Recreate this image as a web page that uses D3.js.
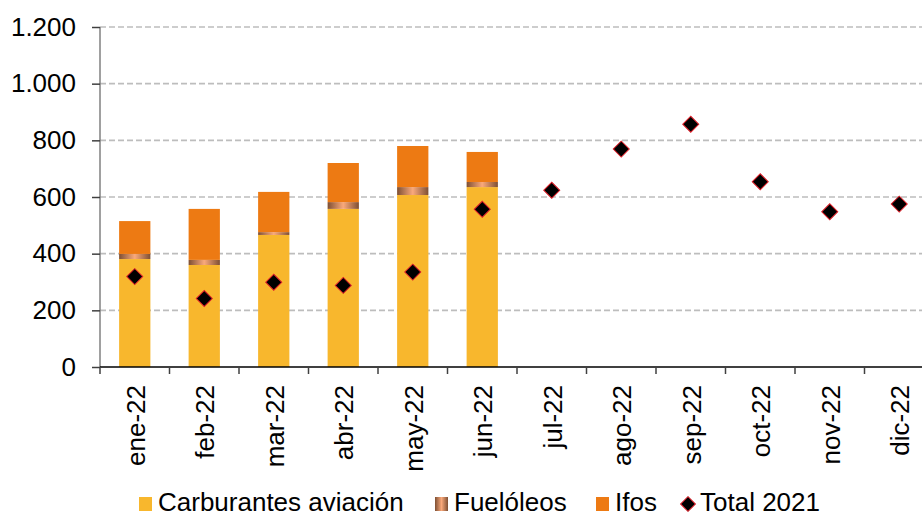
<!DOCTYPE html>
<html>
<head>
<meta charset="utf-8">
<script src="https://cdn.jsdelivr.net/npm/d3@7"></script>
<style>
  body { margin: 0; background: #fff; }
  svg { display: block; font-family: "Liberation Sans", Arial, sans-serif; }
</style>
</head>
<body>
<svg id="chart" width="922" height="517"></svg>
<script>
const months = ['ene-22', 'feb-22', 'mar-22', 'abr-22', 'may-22', 'jun-22',
  'jul-22', 'ago-22', 'sep-22', 'oct-22', 'nov-22', 'dic-22'];
const carburantes = [381, 360, 466, 558, 607, 635];
const fueloleos = [18, 18, 10, 24, 28, 18];
const ifos = [116, 180, 142, 138, 145, 106];
const total2021 = [319, 242, 299, 288, 335, 557, 624, 769, 857, 654, 548, 575];
const yTicks = [0, 200, 400, 600, 800, 1000, 1200];

const svg = d3.select('#chart');
const margin = {left: 100, top: 27};
const plotRight = 934;
const zeroY = 367;

let x = d3.scaleBand()
  .domain(months)
  .range([margin.left, plotRight])
  .paddingInner(0.55)
  .paddingOuter(0.275);

let y = d3.scaleLinear()
  .domain([0, 1200])
  .range([zeroY, margin.top]);

let fmt = d => d3.format(',')(d).replace(/,/g, '.');

// gradient for fuelóleos
let defs = svg.append('defs');
let grad = defs.append('linearGradient').attr('id', 'fuelGrad')
  .attr('x1', '0%').attr('x2', '100%').attr('y1', '0%').attr('y2', '0%');
grad.append('stop').attr('offset', '0%').attr('stop-color', '#7e4f33');
grad.append('stop').attr('offset', '50%').attr('stop-color', '#f9a97b');
grad.append('stop').attr('offset', '100%').attr('stop-color', '#7e4f33');

// gridlines
svg.append('g')
  .selectAll('line')
  .data(yTicks.filter(d => d > 0))
  .join('line')
  .attr('x1', margin.left).attr('x2', 922)
  .attr('y1', d => y(d)).attr('y2', d => y(d))
  .attr('stroke', '#bdbdbd')
  .attr('stroke-width', 1.7)
  .attr('stroke-dasharray', '6,3');

// stacked bars
let rows = carburantes.map((c, i) => ({
  month: months[i], carburantes: c, fueloleos: fueloleos[i], ifos: ifos[i]
}));
let stack = d3.stack().keys(['carburantes', 'fueloleos', 'ifos'])(rows);
let fills = {carburantes: '#f8b72d', fueloleos: 'url(#fuelGrad)', ifos: '#ed7a13'};

svg.append('g')
  .selectAll('g')
  .data(stack)
  .join('g')
  .attr('fill', s => fills[s.key])
  .selectAll('rect')
  .data(s => s)
  .join('rect')
  .attr('x', d => x(d.data.month))
  .attr('width', x.bandwidth())
  .attr('y', d => y(d[1]))
  .attr('height', d => y(d[0]) - y(d[1]));

// y axis
let yAxis = svg.append('g')
  .attr('transform', `translate(${margin.left},0)`)
  .call(d3.axisLeft(y).tickValues(yTicks).tickFormat(fmt).tickSize(8).tickPadding(16));
yAxis.select('.domain').attr('stroke', '#808080').attr('stroke-width', 1.5)
  .attr('d', `M0,${margin.top}V${zeroY}`);
yAxis.selectAll('.tick line').attr('stroke', '#404040').attr('stroke-width', 1.5);
yAxis.selectAll('.tick text')
  .attr('font-size', 26)
  .attr('fill', '#000')
  .attr('font-family', '"Liberation Sans", Arial, sans-serif');

// x axis
let xAxisG = svg.append('g').attr('transform', `translate(0,${zeroY})`);
xAxisG.append('line')
  .attr('x1', margin.left).attr('x2', plotRight)
  .attr('stroke', '#000').attr('stroke-width', 1.5);
let step = x.step();
xAxisG.selectAll('line.tick')
  .data(d3.range(months.length + 1))
  .join('line')
  .attr('class', 'tick')
  .attr('x1', i => margin.left + i * step)
  .attr('x2', i => margin.left + i * step)
  .attr('y1', 0).attr('y2', 7)
  .attr('stroke', '#404040').attr('stroke-width', 1.5);
xAxisG.selectAll('text')
  .data(months)
  .join('text')
  .attr('transform', d => `translate(${x(d) + x.bandwidth() / 2 + 1},18) rotate(-90)`)
  .attr('text-anchor', 'end')
  .attr('dy', '0.35em')
  .attr('font-size', 26)
  .text(d => d);

// total 2021 diamonds
let diamond = d3.symbol().type(d3.symbolSquare).size(128);
svg.append('g')
  .selectAll('path')
  .data(total2021)
  .join('path')
  .attr('d', diamond)
  .attr('transform', (d, i) => `translate(${x(months[i]) + x.bandwidth() / 2},${y(d)}) rotate(45)`)
  .attr('fill', '#000')
  .attr('stroke', '#e0202a')
  .attr('stroke-width', 1);

// legend
let legend = svg.append('g').attr('font-size', 26);
let items = [
  {label: 'Carburantes aviación', fill: '#f8b72d', x: 139},
  {label: 'Fuelóleos', fill: 'url(#fuelGrad)', x: 435},
  {label: 'Ifos', fill: '#ed7a13', x: 596},
  {label: 'Total 2021', fill: null, x: 681}
];
items.forEach(it => {
  if (it.fill) {
    legend.append('rect')
      .attr('x', it.x).attr('y', 497)
      .attr('width', 13).attr('height', 14)
      .attr('fill', it.fill);
  } else {
    legend.append('path')
      .attr('d', d3.symbol().type(d3.symbolSquare).size(110)())
      .attr('transform', `translate(${it.x + 7},504) rotate(45)`)
      .attr('fill', '#000').attr('stroke', '#e0202a').attr('stroke-width', 1);
  }
  legend.append('text')
    .attr('x', it.x + 19)
    .attr('y', 511)
    .text(it.label);
});
</script>
</body>
</html>
